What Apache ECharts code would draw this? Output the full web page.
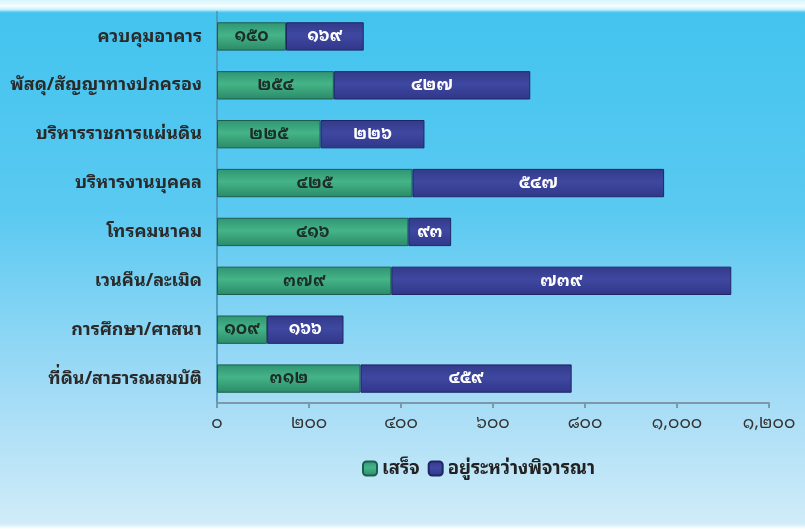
<!DOCTYPE html>
<html>
<head>
<meta charset="utf-8">
<script src="https://cdn.jsdelivr.net/npm/echarts@6/dist/echarts.min.js"></script>
<style>
html,body{margin:0;padding:0;background:#fff;}
#c{width:805px;height:529px;}
</style>
</head>
<body>
<div id="c"></div>
<script>
const categories = ['ควบคุมอาคาร','พัสดุ/สัญญาทางปกครอง','บริหารราชการแผ่นดิน','บริหารงานบุคคล','โทรคมนาคม','เวนคืน/ละเมิด','การศึกษา/ศาสนา','ที่ดิน/สาธารณสมบัติ'];
const seriesNames = ['เสร็จ','อยู่ระหว่างพิจารณา'];
const done = [150, 254, 225, 425, 416, 379, 109, 312];
const pending = [169, 427, 226, 547, 93, 739, 166, 459];
const xTicks = [0, 200, 400, 600, 800, 1000, 1200];

const thaiDigits = ['๐','๑','๒','๓','๔','๕','๖','๗','๘','๙'];
function toThai(n){
  const s = Number(n).toLocaleString('en-US');
  return s.replace(/[0-9]/g, d => thaiDigits[+d]);
}
const FONT = "'Noto Sans Thai Looped','Noto Sans Thai','Tahoma','Loma','Garuda','Noto Sans',sans-serif";

const chart = echarts.init(document.getElementById('c'), null, {renderer:'canvas'});
chart.setOption({
  backgroundColor: {
    type:'linear', x:0, y:0, x2:0, y2:1,
    colorStops:[
      {offset:0, color:'#d8f4fb'},
      {offset:0.012, color:'#f4fdff'},
      {offset:0.018, color:'#c8f0fb'},
      {offset:0.024, color:'#42c4ef'},
      {offset:0.4, color:'#5ac9f1'},
      {offset:0.75, color:'#a4dcf6'},
      {offset:0.99, color:'#d0ecf9'},
      {offset:1, color:'#ffffff'}
    ]
  },
  textStyle:{fontFamily:FONT},
  animation:false,
  grid:{left:217, right:36, top:12, bottom:126, containLabel:false},
  legend:{
    data:seriesNames,
    left:362, top:459, padding:0,
    itemWidth:14, itemHeight:14, itemGap:8,
    textStyle:{fontSize:18.5, fontWeight:'bold', color:'#222', fontFamily:FONT}
  },
  xAxis:{
    type:'value', min:0, max:1200, interval:200,
    axisLine:{show:true, lineStyle:{color:'#7d98a6', width:2}},
    axisTick:{show:true, length:5, lineStyle:{color:'#7d98a6', width:2}},
    splitLine:{show:false},
    axisLabel:{fontSize:17.5, color:'#333', margin:11, fontFamily:FONT,
      formatter: v => xTicks.includes(v) ? toThai(v) : ''}
  },
  yAxis:{
    type:'category', data:categories, inverse:true,
    axisLine:{show:true, lineStyle:{color:'#4f9cc0', width:2}},
    axisTick:{show:false},
    axisLabel:{fontSize:18, fontWeight:'bold', color:'#2a2a2a', margin:15, fontFamily:FONT}
  },
  series:[
    {
      name:seriesNames[0], type:'bar', stack:'t', data:done,
      barCategoryGap:'42%',
      itemStyle:{
        color:{type:'linear',x:0,y:0,x2:0,y2:1,colorStops:[
          {offset:0,color:'#2f9473'},{offset:0.45,color:'#45b487'},{offset:1,color:'#2a8a68'}]},
        borderColor:'#1c5e50', borderWidth:1
      },
      label:{show:true, position:'inside', fontSize:17, fontWeight:'bold', color:'#1c2e2a', fontFamily:FONT,
        formatter:p=>toThai(p.value)}
    },
    {
      name:seriesNames[1], type:'bar', stack:'t', data:pending,
      barCategoryGap:'42%',
      itemStyle:{
        color:{type:'linear',x:0,y:0,x2:0,y2:1,colorStops:[
          {offset:0,color:'#333a8a'},{offset:0.45,color:'#3f48a0'},{offset:1,color:'#30378a'}]},
        borderColor:'#1e2666', borderWidth:1
      },
      label:{show:true, position:'inside', fontSize:17, fontWeight:'bold', color:'#ffffff', fontFamily:FONT,
        formatter:p=>toThai(p.value)}
    }
  ]
});
</script>
</body>
</html>
